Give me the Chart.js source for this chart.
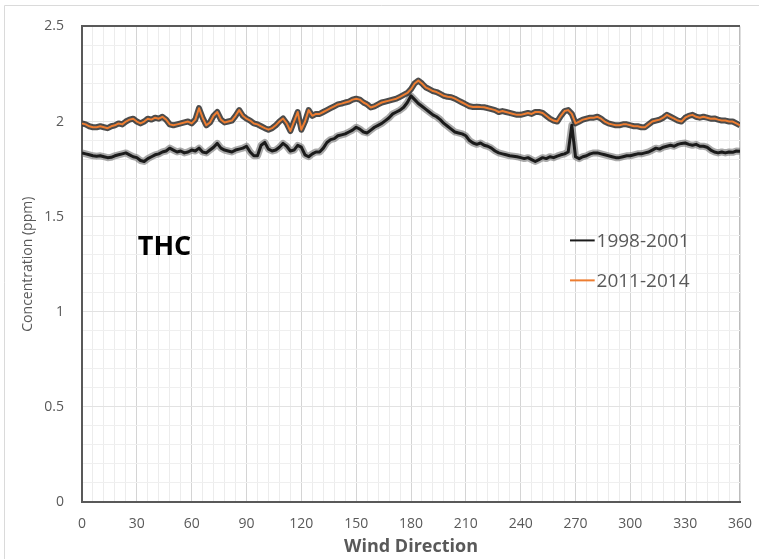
<!DOCTYPE html>
<html>
<head>
<meta charset="utf-8">
<script src="https://cdn.jsdelivr.net/npm/chart.js@4.4.1/dist/chart.umd.min.js"></script>
<style>
  html, body { margin: 0; padding: 0; background: #fff; }
  #wrap { position: relative; width: 759px; height: 559px; }
</style>
</head>
<body>
<div id="wrap"><canvas id="thcChart" width="759" height="559"></canvas></div>
<script>
// THC concentration (ppm) by wind direction, every 2 degrees from 0 to 360
const thc9801 = [
  1.835, 1.83, 1.825, 1.82, 1.818, 1.82, 1.815, 1.81, 1.812, 1.82,
  1.825, 1.83, 1.835, 1.825, 1.815, 1.81, 1.795, 1.79, 1.805, 1.815,
  1.825, 1.83, 1.84, 1.845, 1.86, 1.85, 1.84, 1.845, 1.835, 1.84,
  1.85, 1.845, 1.86, 1.84, 1.835, 1.85, 1.865, 1.885, 1.86, 1.85,
  1.845, 1.84, 1.85, 1.855, 1.86, 1.87, 1.84, 1.82, 1.82, 1.875,
  1.89, 1.855, 1.845, 1.85, 1.865, 1.885, 1.87, 1.845, 1.85, 1.875,
  1.865, 1.825, 1.815, 1.83, 1.84, 1.84, 1.86, 1.89, 1.905, 1.91,
  1.925, 1.93, 1.935, 1.945, 1.955, 1.97, 1.96, 1.945, 1.94, 1.955,
  1.97, 1.98, 1.99, 2.005, 2.02, 2.04, 2.05, 2.06, 2.075, 2.1,
  2.135, 2.115, 2.095, 2.08, 2.065, 2.05, 2.035, 2.025, 2.01, 1.99,
  1.975, 1.96, 1.945, 1.94, 1.935, 1.925, 1.9, 1.887, 1.88, 1.887,
  1.875, 1.87, 1.86, 1.845, 1.835, 1.83, 1.825, 1.82, 1.818, 1.815,
  1.81, 1.805, 1.81, 1.8, 1.79, 1.8, 1.81, 1.805, 1.815, 1.81,
  1.818, 1.825, 1.83, 1.84, 1.98, 1.815, 1.805, 1.815, 1.82, 1.83,
  1.835, 1.835, 1.83, 1.825, 1.82, 1.815, 1.81, 1.81, 1.815, 1.82,
  1.82, 1.825, 1.83, 1.83, 1.835, 1.84, 1.85, 1.86, 1.855, 1.865,
  1.87, 1.875, 1.87, 1.88, 1.885, 1.887, 1.88, 1.875, 1.88, 1.87,
  1.87, 1.865, 1.85, 1.84, 1.835, 1.84, 1.835, 1.84, 1.838, 1.845,
  1.844
];
const thc1114 = [
  1.99, 1.985, 1.975, 1.97, 1.97, 1.975, 1.97, 1.965, 1.975, 1.98,
  1.99, 1.985, 2.0, 2.01, 2.015, 2.0, 1.99, 2.0, 2.015, 2.01,
  2.02, 2.015, 2.025, 2.01, 1.985, 1.98, 1.985, 1.99, 1.995, 2.0,
  1.99, 2.01, 2.07, 2.02, 1.98, 1.995, 2.03, 2.05, 2.01, 1.995,
  2.0, 2.005, 2.03, 2.06, 2.03, 2.015, 2.005, 1.99, 1.985, 1.975,
  1.965, 1.957, 1.965, 1.98, 2.0, 2.016, 1.99, 1.95, 2.0, 2.05,
  1.957, 2.0, 2.06, 2.03, 2.04, 2.04, 2.05, 2.06, 2.07, 2.08,
  2.09, 2.094, 2.1, 2.105, 2.115, 2.12, 2.115, 2.1, 2.09, 2.074,
  2.08, 2.09, 2.1, 2.105, 2.11, 2.115, 2.12, 2.13, 2.14, 2.15,
  2.17, 2.2, 2.215, 2.2, 2.18, 2.17, 2.16, 2.155, 2.145, 2.135,
  2.13, 2.128, 2.12, 2.11, 2.1, 2.09, 2.08, 2.076, 2.078, 2.076,
  2.075, 2.07, 2.065, 2.06, 2.05, 2.055, 2.05, 2.045, 2.04, 2.035,
  2.035, 2.04, 2.045, 2.04, 2.05, 2.05, 2.045, 2.03, 2.015, 2.005,
  2.0, 2.03, 2.055, 2.06, 2.04, 1.99, 2.0, 2.01, 2.015, 2.02,
  2.02, 2.025, 2.015, 2.0, 1.99, 1.985, 1.98, 1.98, 1.985, 1.985,
  1.98, 1.975, 1.975, 1.97, 1.97, 1.985, 2.0, 2.005, 2.01, 2.02,
  2.035, 2.025, 2.015, 2.005, 2.0, 2.02, 2.03, 2.035, 2.025, 2.02,
  2.025, 2.02, 2.015, 2.016, 2.01, 2.005, 2.005, 2.0, 2.0, 1.99,
  1.98
];
const seriesNames = ['1998-2001', '2011-2014'];
const seriesColors = ['#1b1b1b', '#ed7d31'];

const angles = thc9801.map((_, i) => i * 2);
const toPoints = vals => vals.map((v, i) => ({ x: angles[i], y: v }));

const FONT = "'Open Sans', sans-serif";
const GREY_TEXT = '#595959';

// white background plus the thin outer frame
const frame = {
  id: 'frame',
  beforeDraw(chart) {
    const c = chart.ctx;
    c.save();
    c.fillStyle = '#fff';
    c.fillRect(0, 0, chart.width, chart.height);
    c.strokeStyle = '#dadada';
    c.lineWidth = 1;
    c.beginPath();
    c.moveTo(4.5, chart.height);
    c.lineTo(4.5, 5.5);
    c.lineTo(chart.width, 5.5);
    c.stroke();
    c.restore();
  }
};

// "THC" label and the legend inside the plot
const labels = {
  id: 'labels',
  afterDraw(chart) {
    const c = chart.ctx;
    const xs = chart.scales.x, ys = chart.scales.y;
    c.save();
    c.fillStyle = '#000';
    c.font = 'bold 27px ' + FONT;
    c.textBaseline = 'middle';
    c.fillText('THC', xs.getPixelForValue(30.5), ys.getPixelForValue(1.34));

    const legendY = [1.375, 1.165];
    seriesNames.forEach((name, i) => {
      const y = ys.getPixelForValue(legendY[i]);
      c.strokeStyle = seriesColors[i];
      c.lineWidth = 2;
      c.beginPath();
      c.moveTo(xs.getPixelForValue(267), y);
      c.lineTo(xs.getPixelForValue(280.5), y);
      c.stroke();
      c.fillStyle = GREY_TEXT;
      c.font = '19px ' + FONT;
      c.fillText(name, xs.getPixelForValue(281.5), y + 1);
    });
    c.restore();
  }
};

const ctx = document.getElementById('thcChart').getContext('2d');
new Chart(ctx, {
  type: 'line',
  data: {
    datasets: [
      { label: seriesNames[1], data: toPoints(thc1114), borderColor: seriesColors[1], borderWidth: 2 },
      { label: seriesNames[0], data: toPoints(thc9801), borderColor: seriesColors[0], borderWidth: 3 },
      // error band outlines under the lines
      { label: 'err2', data: toPoints(thc1114), borderColor: 'rgba(45,45,45,0.85)', borderWidth: 6 },
      { label: 'err1', data: toPoints(thc9801), borderColor: 'rgba(100,100,100,0.55)', borderWidth: 7 }
    ]
  },
  options: {
    responsive: false,
    animation: false,
    devicePixelRatio: 1,
    layout: { padding: { left: 0, right: 19, top: 17, bottom: 0 } },
    elements: {
      point: { radius: 0 },
      line: { tension: 0, borderJoinStyle: 'round', fill: false }
    },
    plugins: { legend: { display: false }, tooltip: { enabled: false } },
    scales: {
      x: {
        type: 'linear',
        min: 0,
        max: 360,
        afterFit: s => {
          s.height = 57;
          s.paddingLeft = 0;
          s.paddingRight = 0;
        },
        ticks: {
          stepSize: 6,
          autoSkip: false,
          maxRotation: 0,
          padding: 14,
          color: GREY_TEXT,
          font: { family: FONT, size: 14 },
          callback: v => (v % 30 === 0 ? String(v) : '')
        },
        grid: {
          drawTicks: false,
          color: c => {
            const v = c.tick ? c.tick.value : 0;
            if (v === 360) return '#bdbdbd';
            return v % 30 === 0 ? '#d4d4d4' : '#ececec';
          },
          lineWidth: c => (c.tick && c.tick.value === 360 ? 1.5 : 1)
        },
        border: { color: '#595959', width: 2 },
        title: {
          display: true,
          text: 'Wind Direction',
          color: GREY_TEXT,
          font: { family: FONT, size: 18, weight: 'bold' },
          padding: { top: 0, bottom: 1 }
        }
      },
      y: {
        min: 0,
        max: 2.5,
        afterFit: s => { s.width = 82; },
        ticks: {
          stepSize: 0.1,
          autoSkip: false,
          padding: 18,
          color: GREY_TEXT,
          font: { family: FONT, size: 14 },
          callback: v => {
            const t = Math.round(v * 10);
            return t % 5 === 0 ? String(t / 10) : '';
          }
        },
        grid: {
          drawTicks: false,
          color: c => {
            const t = c.tick ? Math.round(c.tick.value * 10) : 0;
            if (t === 25) return '#595959';
            return t % 5 === 0 ? '#e2e2e2' : '#efefef';
          },
          lineWidth: c => (c.tick && Math.round(c.tick.value * 10) === 25 ? 2 : 1)
        },
        border: { color: '#595959', width: 2 },
        title: {
          display: true,
          text: 'Concentration (ppm)',
          color: GREY_TEXT,
          font: { family: FONT, size: 14 },
          padding: { top: 20, bottom: 0 }
        }
      }
    }
  },
  plugins: [frame, labels]
});
</script>
</body>
</html>
